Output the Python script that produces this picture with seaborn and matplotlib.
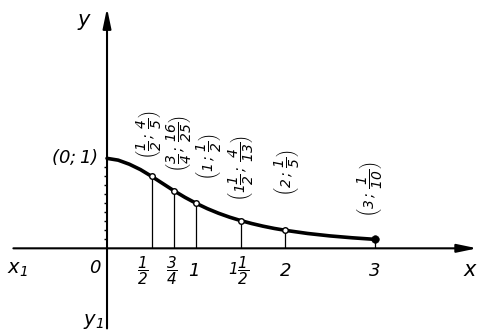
import pandas as pd
import matplotlib
matplotlib.use("Agg")
import matplotlib.pyplot as plt
import seaborn as sns

# --- values ---
# marked points of the curve
pt_x = [0, 0.5, 0.75, 1, 1.5, 2, 3]
pt_y = [1, 0.8, 0.64, 0.5, 4 / 13, 0.2, 0.1]
pt_labels = [r"$(0;1)$",
             r"$\left(\dfrac{1}{2}\,;\,\dfrac{4}{5}\right)$",
             r"$\left(\dfrac{3}{4}\,;\,\dfrac{16}{25}\right)$",
             r"$\left(1\,;\,\dfrac{1}{2}\right)$",
             r"$\left(1\dfrac{1}{2}\,;\,\dfrac{4}{13}\right)$",
             r"$\left(2\,;\,\dfrac{1}{5}\right)$",
             r"$\left(3\,;\,\dfrac{1}{10}\right)$"]

# curve (extra points between the marks)
curve_x = [0, 0.125, 0.25, 0.375, 0.5, 0.625, 0.75, 0.875, 1, 1.125, 1.25, 1.375,
           1.5, 1.625, 1.75, 1.875, 2, 2.25, 2.5, 2.75, 3]
curve_y = [1, 0.98, 0.935, 0.875, 0.8, 0.72, 0.64, 0.566, 0.5, 0.441, 0.39, 0.346,
           0.308, 0.275, 0.246, 0.221, 0.2, 0.165, 0.138, 0.117, 0.1]

# x tick labels
xtick_pos = [0.5, 0.75, 1, 1.5, 2, 3]
xtick_lab = [r"$\dfrac{1}{2}$", r"$\dfrac{3}{4}$", "$1$", r"$1\dfrac{1}{2}$", "$2$", "$3$"]
xtick_size = [11, 11, 13, 11, 13, 13]

# small ticks on the y axis
ytick_vals = [0.1, 0.2, 0.3, 0.4, 0.5, 0.6, 0.7, 0.8, 0.9]

sns.set_theme(style="white")
plt.rcParams.update({
    "font.family": ["DejaVu Sans"],
    "text.color": "black",
    "mathtext.fontset": "custom",
    "mathtext.rm": "DejaVu Sans:italic",
    "mathtext.it": "DejaVu Sans:italic",
    "mathtext.bf": "DejaVu Sans:italic:bold",
})

fig = plt.figure(figsize=(4.78, 3.32), dpi=100)
ax = fig.add_axes([0, 0, 1, 1])
ax.set_xlim(-1.2, 4.16)
ax.set_ylim(-0.93, 2.76)
ax.axis("off")

# axes with arrows
arrow = dict(arrowstyle="-|>,head_length=1.2,head_width=0.25", color="black",
             lw=1.5, shrinkA=0, shrinkB=0, mutation_scale=10)
ax.annotate("", xy=(4.15, 0), xytext=(-1.05, 0), arrowprops=arrow)
ax.annotate("", xy=(0, 2.67), xytext=(0, -0.89), arrowprops=arrow)
ax.hlines(ytick_vals, -0.035, 0, color="black", lw=1)

# drop lines
ax.vlines(pt_x[1:], 0, pt_y[1:], color="black", lw=0.9)

# curve
df_curve = pd.DataFrame({"x": curve_x, "y": curve_y})
sns.lineplot(data=df_curve, x="x", y="y", color="black", lw=2.6, ax=ax,
             sort=True, estimator=None)

df_pts = pd.DataFrame({"x": pt_x, "y": pt_y})
sns.scatterplot(data=df_pts.iloc[1:-1], x="x", y="y", s=16, color="white",
                edgecolor="black", linewidth=1.0, ax=ax, zorder=5)
sns.scatterplot(data=df_pts.iloc[[-1]], x="x", y="y", s=30, color="black",
                edgecolor="black", ax=ax, zorder=5)

# point labels
ax.text(-0.10, 1.01, pt_labels[0], ha="right", va="center", fontsize=13, color="black")
lab_pos = [(0.465, 1.26), (0.80, 1.17), (1.14, 1.02), (1.50, 0.89), (2.01, 0.84), (2.94, 0.66)]
for lab, (lx, ly) in zip(pt_labels[1:], lab_pos):
    ax.text(lx, ly, lab, rotation=90, ha="center", va="center", fontsize=10, color="black")

# x tick labels
tick_shift = [-0.10, -0.02, -0.03, -0.02, 0.0, -0.01]
for p, lab, d, fs in zip(xtick_pos, xtick_lab, tick_shift, xtick_size):
    ax.text(p + d, -0.25, lab, ha="center", va="center", fontsize=fs, color="black")

# axis names
ax.text(-0.13, -0.22, "$0$", ha="center", va="center", fontsize=13)
ax.text(-1.01, -0.23, "$x_1$", ha="center", va="center", fontsize=14)
ax.text(4.08, -0.24, "$x$", ha="center", va="center", fontsize=15)
ax.text(-0.25, 2.51, "$y$", ha="center", va="center", fontsize=15)
ax.text(-0.15, -0.81, "$y_1$", ha="center", va="center", fontsize=14)

fig.savefig("out.png", dpi=100)
